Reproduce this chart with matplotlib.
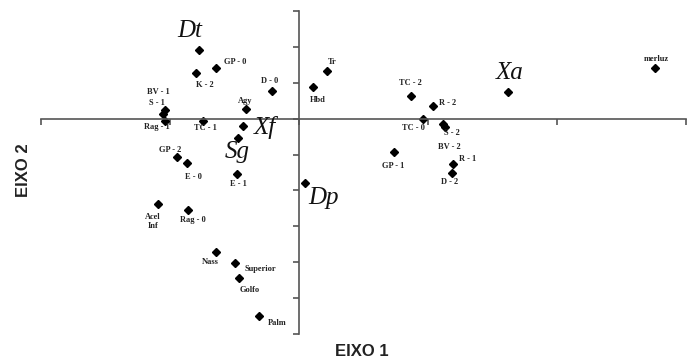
import matplotlib
matplotlib.use("Agg")
import matplotlib.pyplot as plt

# ---- data ----
labels = ["GP - 0", "K - 2", "D - 0", "Agy", "BV - 1", "S - 1", "Rag - 1", "TC - 1",
          "GP - 2", "E - 0", "E - 1", "Acel\nInf", "Rag - 0", "Nass", "Superior",
          "Golfo", "Palm", "Tr", "Hbd", "TC - 2", "R - 2", "TC - 0", "S - 2",
          "BV - 2", "GP - 1", "R - 1", "D - 2", "merluz"]
x_vals = [-0.643, -0.798, -0.209, -0.411, -1.039, -1.054, -1.039, -0.744,
          -0.946, -0.868, -0.481, -1.093, -0.860, -0.643, -0.496,
          -0.465, -0.310, 0.217, 0.109, 0.868, 1.039, 0.961, 1.116,
          1.130, 0.736, 1.194, 1.186, 2.760]
y_vals = [1.42, 1.26, 0.78, 0.28, 0.25, 0.14, -0.06, -0.06,
          -1.06, -1.23, -1.54, -2.37, -2.54, -3.72, -4.02,
          -4.44, -5.50, 1.34, 0.89, 0.64, 0.34, 0.00, -0.14,
          -0.22, -0.92, -1.26, -1.51, 1.42]

species = ["Dt", "Xf", "Sg", "Xa", "Dp"]
sp_x = [-0.775, -0.434, -0.473, 1.620, 0.047]
sp_y = [1.90, -0.20, -0.53, 0.73, -1.79]

x_ticks = [-2, -1, 0, 1, 2, 3]
y_ticks = [-6, -5, -4, -3, -2, -1, 0, 1, 2, 3]

# ---- label offsets (pixels, screen: +y down) ----
lab_off = [(19, -6), (9, 12), (-2, -10), (-1, -8), (-7, -18), (-6, -11), (-8, 6), (2, 7),
           (-7, -7), (6, 14), (1, 10), (-5, 18), (5, 10), (-6, 10), (25, 6),
           (11, 12), (18, 7), (5, -9), (5, 13), (-1, -13), (15, -3), (-10, 9), (9, 9),
           (5, 20), (-1, 14), (15, -5), (-2, 9), (1, -9)]
sp_off = [(-9, -19), (22, 2), (-1, 14), (2, -19), (18, 15)]

fig = plt.figure(figsize=(6.97, 3.63), dpi=100)
ax = fig.add_axes([41 / 697, (363 - 334) / 363, 645 / 697, 323 / 363])
ax.set_xlim(-2, 3)
ax.set_ylim(-6, 3)

for s in ["top", "right"]:
    ax.spines[s].set_visible(False)
ax.spines["left"].set_position(("data", 0))
ax.spines["bottom"].set_position(("data", 0))
ax.spines["left"].set_color("#555555")
ax.spines["bottom"].set_color("#555555")
ax.spines["left"].set_linewidth(1.2)
ax.spines["bottom"].set_linewidth(1.2)
ax.set_xticks(x_ticks)
ax.set_yticks(y_ticks)
ax.set_xticklabels([])
ax.set_yticklabels([])
ax.tick_params(axis="both", direction="out", length=4, width=1.2, color="#555555")

serif = ["Liberation Serif", "DejaVu Serif"]

ax.plot(x_vals, y_vals, linestyle="none", marker="D", markersize=4.5,
        color="black", clip_on=False)
ax.plot(sp_x, sp_y, linestyle="none", marker="D", markersize=4.5,
        color="black", clip_on=False)

for lab, x, y, (dx, dy) in zip(labels, x_vals, y_vals, lab_off):
    ax.annotate(lab, (x, y), xytext=(dx, -dy), textcoords="offset pixels",
                ha="center", va="center", fontsize=6, fontweight="bold",
                family=serif, color="#222222", linespacing=1.1,
                annotation_clip=False)

for lab, x, y, (dx, dy) in zip(species, sp_x, sp_y, sp_off):
    ax.annotate(lab, (x, y), xytext=(dx, -dy), textcoords="offset pixels",
                ha="center", va="center", fontsize=18, fontstyle="italic",
                family=serif, color="#111111", annotation_clip=False)

fig.text(362 / 697, 1 - 351 / 363, "EIXO 1", ha="center", va="center",
         fontsize=12, fontweight="bold", color="#222222",
         family=["Liberation Sans", "DejaVu Sans"])
fig.text(23 / 697, 1 - 170 / 363, "EIXO 2", ha="center", va="center",
         rotation=90, fontsize=12, fontweight="bold", color="#222222",
         family=["Liberation Sans", "DejaVu Sans"])

fig.savefig("out.png", dpi=100)
